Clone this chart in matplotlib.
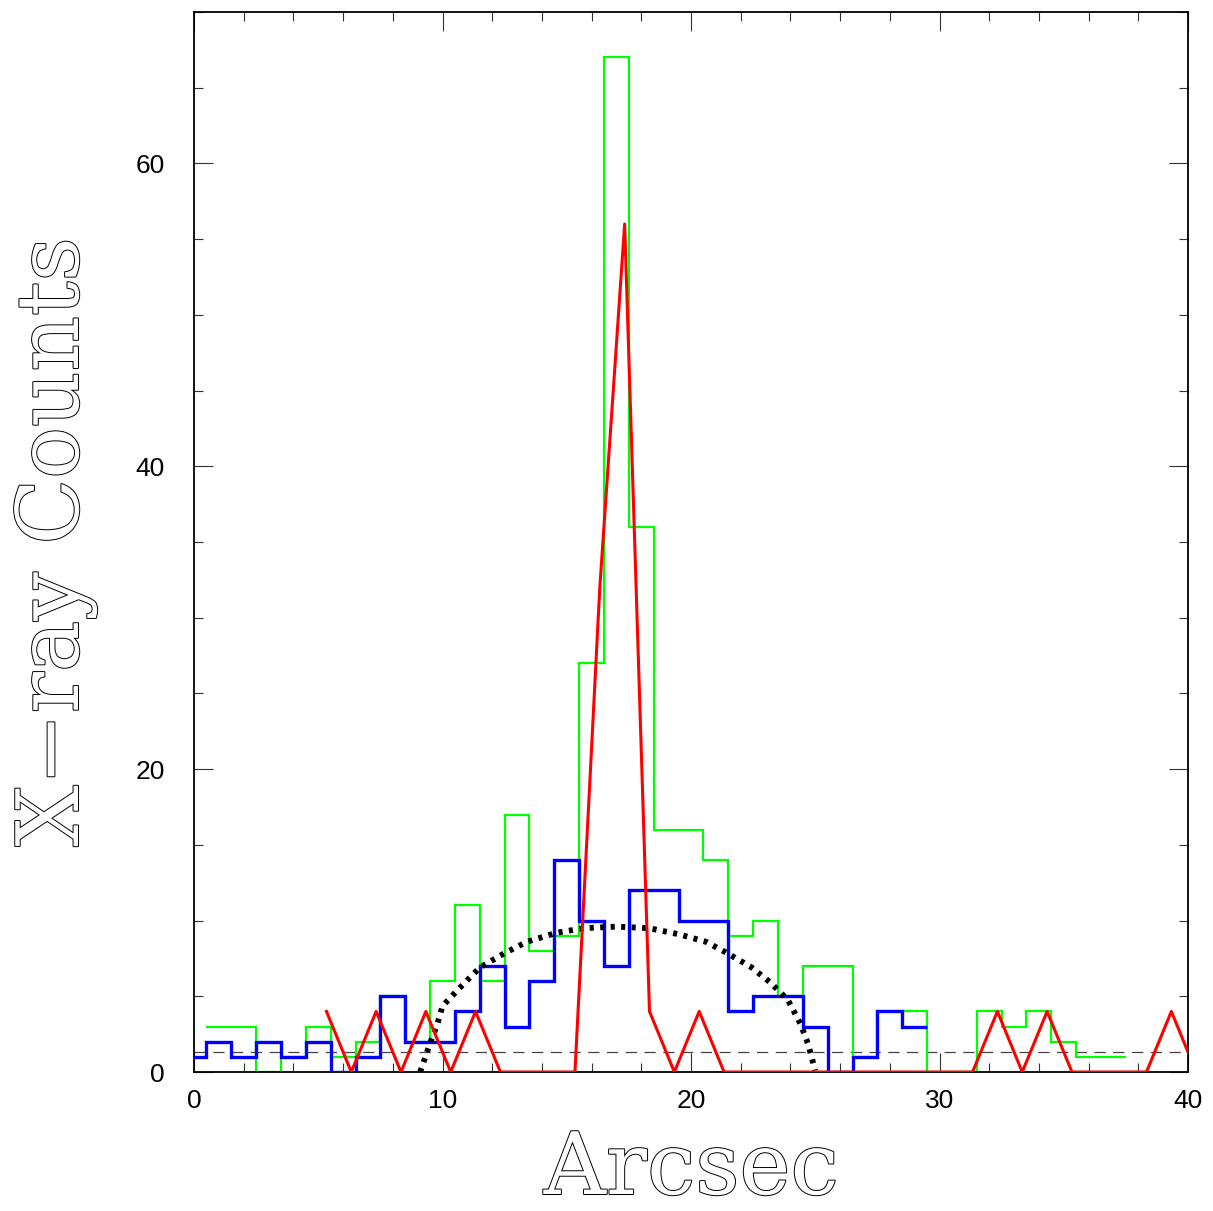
import numpy as np
import matplotlib
matplotlib.use("Agg")
import matplotlib.pyplot as plt
import matplotlib.patheffects as pe
from matplotlib.ticker import MultipleLocator

# green histogram (bin edges at half arcsec)
green_edges = np.arange(0.5, 38.0, 1.0)
green_counts = [3, 3, 0, 1, 3, 1, 2, 5, 2, 6, 11, 6, 17, 8, 9, 27, 67, 36, 16,
                16, 14, 9, 10, 5, 7, 7, 1, 4, 4, 0, 0, 4, 3, 4, 2, 1, 1]

# blue histogram
blue_edges = np.arange(-0.5, 30.0, 1.0)
blue_counts = [1, 2, 1, 2, 1, 2, 0, 1, 5, 2, 2, 4, 7, 3, 6, 14, 10, 7, 12, 12,
               10, 10, 4, 5, 5, 3, 0, 1, 4, 3]

# red profile
red_x = np.arange(5, 41) + 0.33
red_counts = [4, 0, 4, 0, 4, 0, 4, 0, 0, 0, 0, 32, 56, 4, 0, 4, 0, 0, 0, 0,
              0, 0, 0, 0, 0, 0, 0, 4, 0, 4, 0, 0, 0, 0, 4, 0]

# dotted model curve
model_x = [9.1, 9.5, 9.8, 10.0, 10.6, 11.5, 12.5, 13.4, 14.6, 15.7, 17.0,
           18.3, 19.5, 20.6, 21.4, 22.4, 23.2, 23.9, 24.4, 24.7, 25.0]
model_y = [0.0, 1.9, 3.2, 4.35, 5.4, 6.9, 7.85, 8.6, 9.2, 9.5, 9.6,
           9.5, 9.1, 8.6, 7.9, 6.95, 5.9, 4.75, 3.2, 1.9, 0.1]

background = 1.3

fig = plt.figure(figsize=(12.13, 12.11), dpi=100)
ax = fig.add_axes([194 / 1213, 1 - 1072 / 1211, (1188 - 194) / 1213, (1072 - 12) / 1211])

ax.axhline(background, color="#444444", lw=0.9, dashes=(9, 6), zorder=1)
ax.stairs(green_counts, green_edges, baseline=None, color="#00ff00", lw=1.6, zorder=2)
ax.stairs(blue_counts, blue_edges, baseline=None, color="#0000ff", lw=2.4, zorder=3)
ax.plot(model_x, model_y, color="black", lw=4.2, linestyle=(0, (0.7, 1.1)),
        dash_capstyle="butt", zorder=4)
ax.plot(red_x, red_counts, color="#ff0000", lw=2.2, zorder=5)

ax.set_xlim(0, 40)
ax.set_ylim(0, 70)

ax.xaxis.set_major_locator(MultipleLocator(10))
ax.xaxis.set_minor_locator(MultipleLocator(2))
ax.yaxis.set_major_locator(MultipleLocator(20))
ax.yaxis.set_minor_locator(MultipleLocator(5))

ax.tick_params(which="both", direction="in", top=True, right=True,
               width=0.8, color="#333333")
ax.tick_params(which="major", length=13.7)
ax.tick_params(which="minor", length=6.5)
ax.tick_params(axis="y", which="major", pad=21)
ax.tick_params(axis="x", which="major", pad=12)

for lab in ax.get_xticklabels() + ax.get_yticklabels():
    lab.set_fontfamily("Liberation Sans")
    lab.set_fontsize(19)

for sp in ax.spines.values():
    sp.set_linewidth(1.3)

outline = [pe.withStroke(linewidth=1.4, foreground="black")]
fig.text(691 / 1213, 1 - 1194 / 1211, "Arcsec", family="DejaVu Serif",
         fontsize=62, color="white", ha="center", va="baseline",
         path_effects=outline)
fig.text(78 / 1213, 1 - 542 / 1211, "X\u2212ray Counts", family="DejaVu Serif",
         fontsize=62, color="white", ha="center", va="baseline",
         rotation=90, rotation_mode="anchor", path_effects=outline)

fig.savefig("out.png", dpi=100)
